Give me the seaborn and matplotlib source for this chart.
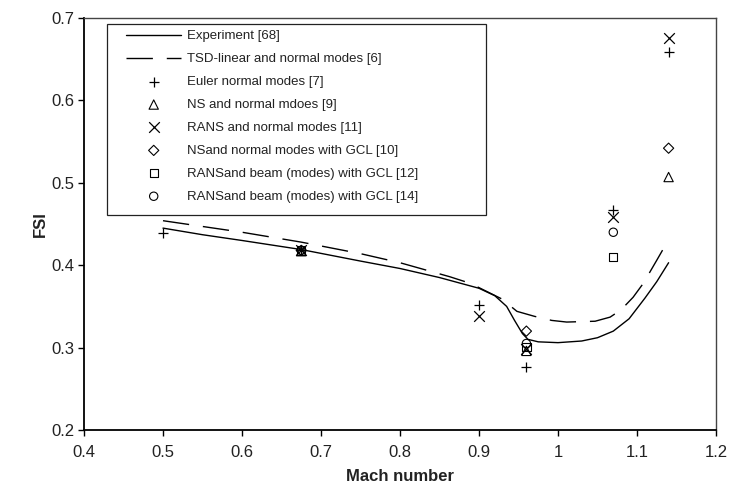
import numpy as np
import pandas as pd
import matplotlib
matplotlib.use("Agg")
import matplotlib.pyplot as plt
from matplotlib.patches import Rectangle
import seaborn as sns

# Experiment [68] (solid curve)
exp_mach = [0.50, 0.55, 0.60, 0.675, 0.75, 0.80, 0.85, 0.90, 0.92, 0.935, 0.945,
            0.955, 0.962, 0.975, 1.00, 1.03, 1.05, 1.07, 1.09, 1.11, 1.125, 1.14]
exp_fsi = [0.445, 0.437, 0.430, 0.419, 0.405, 0.396, 0.385, 0.372, 0.363, 0.350, 0.333,
           0.317, 0.310, 0.307, 0.306, 0.308, 0.312, 0.320, 0.335, 0.360, 0.380, 0.403]

# TSD-linear and normal modes [6] (dashed curve)
tsd_mach = [0.50, 0.60, 0.675, 0.75, 0.80, 0.863, 0.889, 0.929, 0.948, 0.970, 0.992,
            1.011, 1.047, 1.066, 1.080, 1.095, 1.108, 1.125, 1.14]
tsd_fsi = [0.454, 0.440, 0.428, 0.414, 0.403, 0.386, 0.378, 0.359, 0.344, 0.338, 0.333,
           0.331, 0.332, 0.337, 0.346, 0.361, 0.378, 0.406, 0.431]

# computed points
euler_mach = [0.50, 0.675, 0.90, 0.96, 1.07, 1.14]
euler_fsi = [0.439, 0.418, 0.352, 0.276, 0.467, 0.659]

ns_mach = [0.675, 0.96, 1.14]
ns_fsi = [0.417, 0.296, 0.507]

rans_mach = [0.675, 0.90, 0.96, 1.07, 1.14]
rans_fsi = [0.418, 0.338, 0.298, 0.459, 0.676]

nsgcl_mach = [0.675, 0.96, 1.14]
nsgcl_fsi = [0.418, 0.320, 0.542]

beam12_mach = [0.675, 0.96, 1.07]
beam12_fsi = [0.418, 0.301, 0.410]

beam14_mach = [0.675, 0.96, 1.07]
beam14_fsi = [0.418, 0.305, 0.440]

sns.set_theme(style="white")
plt.rcParams['font.family'] = ['Liberation Sans', 'DejaVu Sans']

W, H = 733, 491
L, R, T, B = 84, 716, 18, 430
fig = plt.figure(figsize=(W / 100, H / 100), dpi=100)
ax = fig.add_axes([L / W, 1 - B / H, (R - L) / W, (B - T) / H])

sns.lineplot(x=exp_mach, y=exp_fsi, ax=ax, color='black', lw=1.0,
             label='Experiment [68]', sort=False)
sns.lineplot(x=tsd_mach, y=tsd_fsi, ax=ax, color='black', lw=1.0,
             dashes=False, label='TSD-linear and normal modes [6]', sort=False)
ax.lines[-1].set_dashes((19, 10))

ms = 45
sns.scatterplot(x=euler_mach, y=euler_fsi, ax=ax, marker='+', color='black',
                s=ms * 1.3, linewidth=0.9, label='Euler normal modes [7]')
sns.scatterplot(x=ns_mach, y=ns_fsi, ax=ax, marker='^', facecolor='none',
                edgecolor='black', s=ms, linewidth=0.8, label='NS and normal mdoes [9]')
sns.scatterplot(x=rans_mach, y=rans_fsi, ax=ax, marker='x', color='black',
                s=ms * 1.3, linewidth=0.9, label='RANS and normal modes [11]')
sns.scatterplot(x=nsgcl_mach, y=nsgcl_fsi, ax=ax, marker='D', facecolor='none',
                edgecolor='black', s=ms * 0.6, linewidth=0.8,
                label='NSand normal modes with GCL [10]')
sns.scatterplot(x=beam12_mach, y=beam12_fsi, ax=ax, marker='s', facecolor='none',
                edgecolor='black', s=ms * 0.8, linewidth=0.8,
                label='RANSand beam (modes) with GCL [12]')
sns.scatterplot(x=beam14_mach, y=beam14_fsi, ax=ax, marker='o', facecolor='none',
                edgecolor='black', s=ms * 0.8, linewidth=0.8,
                label='RANSand beam (modes) with GCL [14]')

ax.set_xlim(0.4, 1.2)
ax.set_ylim(0.2, 0.7)
ax.set_xticks(np.arange(0.4, 1.21, 0.1))
ax.set_xticklabels(['0.4', '0.5', '0.6', '0.7', '0.8', '0.9', '1', '1.1', '1.2'])
ax.set_yticks(np.arange(0.2, 0.71, 0.1))
ax.set_yticklabels(['0.2', '0.3', '0.4', '0.5', '0.6', '0.7'])
ax.tick_params(axis='both', direction='out', length=4, width=1, color='black',
               labelsize=12, labelcolor='#222222', bottom=True, left=True)
ax.tick_params(axis='x', pad=7)
ax.tick_params(axis='y', pad=3)

ax.set_xlabel('Mach number', fontsize=12, fontweight='bold', color='#222222', labelpad=6)
ax.set_ylabel('FSI', fontsize=12, fontweight='bold', color='#222222', labelpad=2)

for side in ['left', 'bottom']:
    ax.spines[side].set_color('black')
    ax.spines[side].set_linewidth(1.3)
for side in ['top', 'right']:
    ax.spines[side].set_color('#444444')
    ax.spines[side].set_linewidth(1.0)

# legend frame drawn as a plain box (pixels 107..486 x 24..215)
def ax_x(px):
    return (px - L) / (R - L)

def ax_y(py):
    return (B - py) / (B - T)

box = Rectangle((ax_x(107), ax_y(215)), ax_x(486) - ax_x(107), ax_y(24) - ax_y(215),
                transform=ax.transAxes, fill=True, facecolor='white',
                edgecolor='#222222', lw=0.9, zorder=4)
ax.add_patch(box)

leg = ax.legend(loc='upper left', bbox_to_anchor=(ax_x(126), ax_y(30)),
                frameon=False, fontsize=9.5, handlelength=4.2, handletextpad=0.45,
                labelspacing=0.81, borderpad=0, borderaxespad=0, scatterpoints=1)
leg.set_zorder(5)
for t in leg.get_texts():
    t.set_color('#222222')

fig.savefig('out.png', dpi=100)
